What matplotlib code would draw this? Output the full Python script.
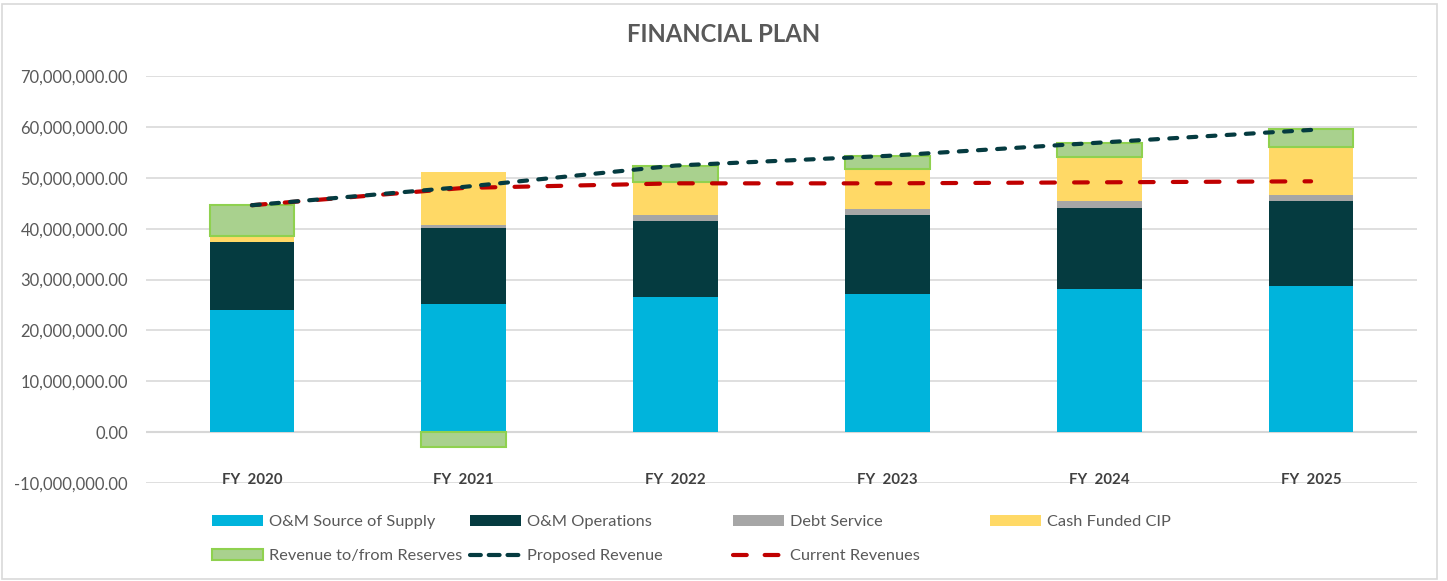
import numpy as np
import matplotlib.pyplot as plt
from matplotlib.patches import Patch, Rectangle
from matplotlib.lines import Line2D
from matplotlib.ticker import FuncFormatter

plt.rcParams['font.family'] = ['Lato', 'DejaVu Sans']

years = ['FY  2020', 'FY  2021', 'FY  2022', 'FY  2023', 'FY  2024', 'FY  2025']
source_supply = [24.0e6, 25.2e6, 26.5e6, 27.1e6, 28.05e6, 28.8e6]
om_operations = [13.4e6, 14.85e6, 15.0e6, 15.6e6, 15.95e6, 16.7e6]
debt_service = [0.0, 0.7e6, 1.2e6, 1.1e6, 1.35e6, 1.1e6]
cash_cip = [1.1e6, 10.35e6, 6.5e6, 7.9e6, 8.75e6, 9.5e6]
reserves = [6.1e6, -2.9e6, 3.2e6, 2.6e6, 2.8e6, 3.4e6]
proposed_rev = [44.6e6, 48.2e6, 52.4e6, 54.3e6, 56.9e6, 59.4e6]
current_rev = [44.6e6, 48.0e6, 48.9e6, 48.9e6, 49.1e6, 49.3e6]

c_src = '#00b4dc'
c_ops = '#053b40'
c_debt = '#a6a6a6'
c_cip = '#ffd966'
c_res = '#a9d18e'
c_res_edge = '#8fd14f'
c_cur = '#c00000'
txt = '#595959'

fig = plt.figure(figsize=(14.47, 5.81), dpi=100)
ax = fig.add_axes([146/1447, 1-483/581, (1417-146)/1447, (483-76)/581])

x = np.arange(len(years))
w = 0.4
src = np.array(source_supply)
ops = np.array(om_operations)
debt = np.array(debt_service)
cip = np.array(cash_cip)
res = np.array(reserves)

ax.bar(x, src, w, color=c_src, zorder=2)
b1 = src
ax.bar(x, ops, w, bottom=b1, color=c_ops, zorder=2)
b2 = b1 + ops
ax.bar(x, debt, w, bottom=b2, color=c_debt, zorder=2)
b3 = b2 + debt
ax.bar(x, cip, w, bottom=b3, color=c_cip, zorder=2)
b4 = b3 + cip
res_bottom = np.where(res >= 0, b4, 0)
ax.bar(x, res, w, bottom=res_bottom, color=c_res, edgecolor=c_res_edge, linewidth=1.5, zorder=2)

ax.plot(x, proposed_rev, color=c_ops, lw=3, dashes=(1.9, 2.7), dash_capstyle='round', zorder=4)
ax.plot(x, current_rev, color=c_cur, lw=3, dashes=(3.3, 4.6), dash_capstyle='round', zorder=3)

ax.set_xlim(-0.5, len(years) - 0.5)
ax.set_ylim(-10e6, 70e6)
ax.set_yticks(np.arange(-10e6, 70e6 + 1, 10e6))
ax.yaxis.set_major_formatter(FuncFormatter(lambda v, p: '{:,.2f}'.format(v)))
ax.tick_params(axis='y', length=0, labelsize=11.9, labelcolor=txt, pad=13)
ax.set_xticks([])
ax.grid(axis='y', color='#d9d9d9', lw=1.2, zorder=0)
ax.axhline(0, color='#d0d0d0', lw=1.5, zorder=1)
for s in ax.spines.values():
    s.set_visible(False)

for i, yr in enumerate(years):
    ax.text(i, -9.4e6, yr, ha='center', va='center', fontsize=10.8,
            fontweight='bold', color='#404040')

fig.text(0.5, 1 - 35/581, 'FINANCIAL PLAN', ha='center', va='center',
         fontsize=17.2, fontweight='bold', color=txt)

# legend, laid out like Excel's fixed-width columns
entries = [
    (Patch(facecolor=c_src), 'O&M Source of Supply'),
    (Patch(facecolor=c_ops), 'O&M Operations'),
    (Patch(facecolor=c_debt), 'Debt Service'),
    (Patch(facecolor=c_cip), 'Cash Funded CIP'),
    (Patch(facecolor=c_res, edgecolor=c_res_edge, lw=1.5), 'Revenue to/from Reserves'),
    (Line2D([], [], color=c_ops, lw=3, dashes=(2.6, 1.9), dash_capstyle='round'), 'Proposed Revenue'),
    (Line2D([], [], color=c_cur, lw=3, dashes=(3.3, 4.3), dash_capstyle='round'), 'Current Revenues'),
]
col_x = [212, 470, 733, 990]
row_y = [522, 556]
for k, (h, lab) in enumerate(entries):
    cx = col_x[k % 4]
    cy = row_y[k // 4]
    fig.legend(handles=[h], labels=[lab], loc='center left',
               bbox_to_anchor=(cx/1447, 1 - cy/581), frameon=False,
               fontsize=11.8, labelcolor=txt, handlelength=3.1, handleheight=0.73,
               handletextpad=0.35, borderpad=0.0, borderaxespad=0.0)

fig.patches.append(Rectangle((2/1447, 2/581), 1435/1447, 575/581, transform=fig.transFigure,
                             fill=False, edgecolor='#d9d9d9', lw=1.2))

fig.savefig('out.png', dpi=100)
